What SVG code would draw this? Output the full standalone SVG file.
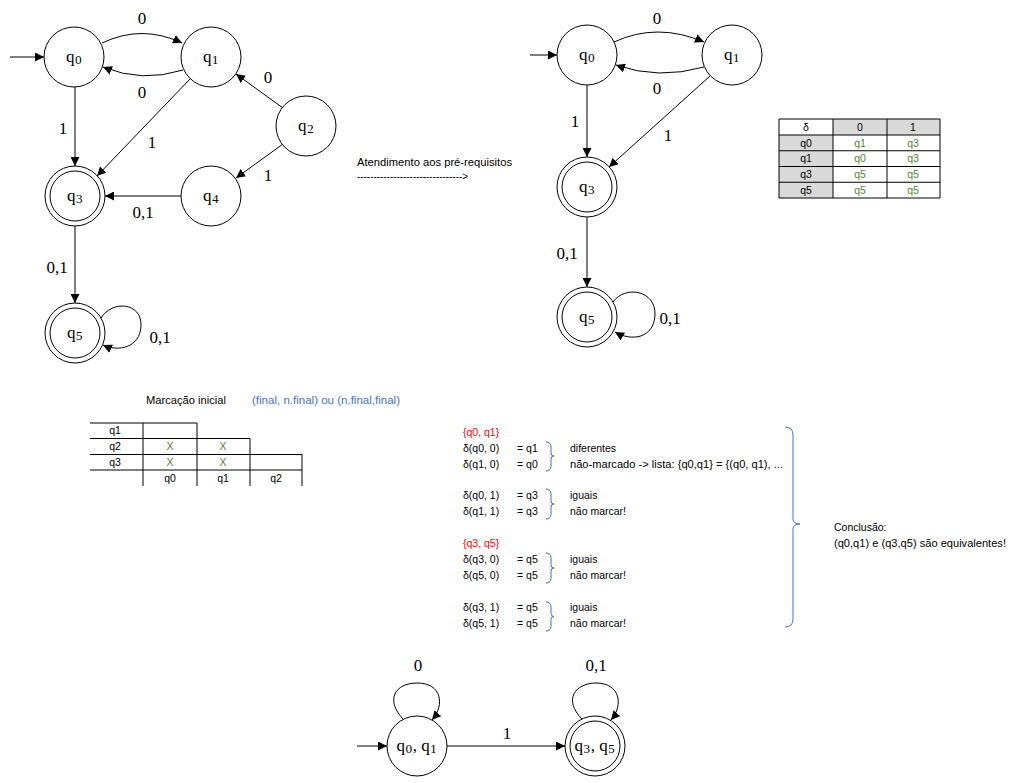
<svg xmlns="http://www.w3.org/2000/svg" width="1014" height="783" viewBox="0 0 1014 783">
<style>
.st{fill:#fff;stroke:#000;stroke-width:1}
.in{fill:none;stroke:#000;stroke-width:1}
.e{fill:none;stroke:#000;stroke-width:1}
.sl{font-family:"Liberation Serif","DejaVu Serif",serif;font-size:17px;text-anchor:middle;fill:#000}
.sb{font-size:22px}
.el{font-family:"Liberation Serif","DejaVu Serif",serif;font-size:17px;text-anchor:middle;fill:#000}
.t{font-family:"Liberation Sans",Arial,sans-serif;font-size:10.5px;fill:#000}
.tc{font-family:"Liberation Sans",Arial,sans-serif;font-size:10.5px;fill:#000;text-anchor:middle}
.g{fill:#548235}
.r{fill:#ff0000}
.b{fill:#4472c4}
.grid{stroke:#000;stroke-width:1;fill:none}
.br{fill:none;stroke:#4472c4;stroke-width:1}
</style>
<defs>
<marker id="ar" viewBox="0 0 10 10" refX="10" refY="5" markerWidth="9" markerHeight="9" markerUnits="userSpaceOnUse" orient="auto">
<path d="M0 0 L10 5 L0 10 Z" fill="#000"/>
</marker>
</defs>
<rect width="1014" height="783" fill="#fff"/>

<!-- connectors -->
<g id="connectors">
<path class="e" d="M10 57 L44 57" marker-end="url(#ar)"/>
<path class="e" d="M102 43 Q142 24 182 43" marker-end="url(#ar)"/>
<path class="e" d="M183 70 Q142 83 103 67" marker-end="url(#ar)"/>
<path class="e" d="M75 87 L75 166" marker-end="url(#ar)"/>
<path class="e" d="M190 79 L97 176" marker-end="url(#ar)"/>
<path class="e" d="M283 108 L236 74" marker-end="url(#ar)"/>
<path class="e" d="M283 144 L236 178" marker-end="url(#ar)"/>
<path class="e" d="M181 196 L105 196" marker-end="url(#ar)"/>
<path class="e" d="M75 226 L75 303" marker-end="url(#ar)"/>
<path class="e" d="M101 318 C112 300 142 302 141 326 C140 348 118 352 103 345" marker-end="url(#ar)"/>
<path class="e" d="M530 55 L557 55" marker-end="url(#ar)"/>
<path class="e" d="M614 42 Q657 22 704 42" marker-end="url(#ar)"/>
<path class="e" d="M704 67 Q658 80 616 65" marker-end="url(#ar)"/>
<path class="e" d="M587 85 L587 157" marker-end="url(#ar)"/>
<path class="e" d="M710 76 L609 167" marker-end="url(#ar)"/>
<path class="e" d="M587 217 L587 287" marker-end="url(#ar)"/>
<path class="e" d="M613 302 C625 285 656 290 655 315 C654 338 632 342 615 332" marker-end="url(#ar)"/>
<path class="e" d="M357 746 L387 746" marker-end="url(#ar)"/>
<path class="e" d="M447 746 L565 746" marker-end="url(#ar)"/>
<path class="e" d="M403 719 C385 700 395 683 417 683 C442 683 445 705 432 720" marker-end="url(#ar)"/>
<path class="e" d="M582 719 C563 700 575 683 596 683 C620 683 624 705 611 720" marker-end="url(#ar)"/>
</g>

<!-- edge labels -->
<g id="edge-labels">
<text class="el" x="142" y="24">0</text>
<text class="el" x="142" y="98">0</text>
<text class="el" x="63" y="134">1</text>
<text class="el" x="152" y="148">1</text>
<text class="el" x="268" y="83">0</text>
<text class="el" x="268" y="181">1</text>
<text class="el" x="143" y="218">0,1</text>
<text class="el" x="57" y="273">0,1</text>
<text class="el" x="160" y="343">0,1</text>
<text class="el" x="657" y="24">0</text>
<text class="el" x="657" y="94">0</text>
<text class="el" x="575" y="127">1</text>
<text class="el" x="668" y="141">1</text>
<text class="el" x="567" y="259">0,1</text>
<text class="el" x="670" y="324">0,1</text>
<text class="el" x="418" y="671">0</text>
<text class="el" x="596" y="671">0,1</text>
<text class="el" x="507" y="739">1</text>
</g>

<!-- top-left automaton -->
<g id="A_q0"><circle class="st" cx="74" cy="57" r="30"/><text class="sl" x="74" y="62">q<tspan class="sb" dy="-2">₀</tspan></text></g>
<g id="A_q1"><circle class="st" cx="211" cy="57" r="30"/><text class="sl" x="211" y="62">q<tspan class="sb" dy="-2">₁</tspan></text></g>
<g id="A_q2"><circle class="st" cx="306" cy="126" r="30"/><text class="sl" x="306" y="131">q<tspan class="sb" dy="-2">₂</tspan></text></g>
<g id="A_q3"><circle class="st" cx="75" cy="196" r="30"/><circle class="in" cx="75" cy="196" r="25"/><text class="sl" x="75" y="201">q<tspan class="sb" dy="-2">₃</tspan></text></g>
<g id="A_q4"><circle class="st" cx="211" cy="196" r="30"/><text class="sl" x="211" y="201">q<tspan class="sb" dy="-2">₄</tspan></text></g>
<g id="A_q5"><circle class="st" cx="75" cy="333" r="30"/><circle class="in" cx="75" cy="333" r="25"/><text class="sl" x="75" y="338">q<tspan class="sb" dy="-2">₅</tspan></text></g>

<!-- top-right automaton -->
<g id="B_q0"><circle class="st" cx="587" cy="55" r="30"/><text class="sl" x="587" y="60">q<tspan class="sb" dy="-2">₀</tspan></text></g>
<g id="B_q1"><circle class="st" cx="732" cy="55" r="30"/><text class="sl" x="732" y="60">q<tspan class="sb" dy="-2">₁</tspan></text></g>
<g id="B_q3"><circle class="st" cx="587" cy="187" r="30"/><circle class="in" cx="587" cy="187" r="25"/><text class="sl" x="587" y="192">q<tspan class="sb" dy="-2">₃</tspan></text></g>
<g id="B_q5"><circle class="st" cx="587" cy="317" r="30"/><circle class="in" cx="587" cy="317" r="25"/><text class="sl" x="587" y="322">q<tspan class="sb" dy="-2">₅</tspan></text></g>

<!-- bottom automaton -->
<g id="C_q01"><circle class="st" cx="417" cy="746" r="30"/><text class="sl" x="417" y="751">q<tspan class="sb" dy="-2">₀</tspan><tspan dy="2">, q</tspan><tspan class="sb" dy="-2">₁</tspan></text></g>
<g id="C_q35"><circle class="st" cx="595" cy="746" r="30"/><circle class="in" cx="595" cy="746" r="25"/><text class="sl" x="595" y="751">q<tspan class="sb" dy="-2">₃</tspan><tspan dy="2">, q</tspan><tspan class="sb" dy="-2">₅</tspan></text></g>

<!-- middle arrow text -->
<g id="prereq">
<text class="t" x="357" y="165.5" textLength="155" lengthAdjust="spacingAndGlyphs">Atendimento aos pré-requisitos</text>
<text class="t" x="357" y="179.5" textLength="111" lengthAdjust="spacingAndGlyphs">--------------------------------&gt;</text>
</g>

<!-- transition table -->
<g id="delta-table">
<rect x="833" y="119" width="107" height="16" fill="#d9d9d9"/>
<rect x="779" y="135" width="54" height="63" fill="#d9d9d9"/>
<path class="grid" d="M779 119 H940 V198 H779 Z M779 135 H940 M779 150.75 H940 M779 166.5 H940 M779 182.25 H940 M833 119 V198 M887 119 V198"/>
<text class="tc" x="806" y="130.5">δ</text>
<text class="tc" x="860" y="130.5">0</text>
<text class="tc" x="913" y="130.5">1</text>
<text class="tc" x="806" y="146.5">q0</text>
<text class="tc g" x="860" y="146.5">q1</text>
<text class="tc g" x="913" y="146.5">q3</text>
<text class="tc" x="806" y="162">q1</text>
<text class="tc g" x="860" y="162">q0</text>
<text class="tc g" x="913" y="162">q3</text>
<text class="tc" x="806" y="178">q3</text>
<text class="tc g" x="860" y="178">q5</text>
<text class="tc g" x="913" y="178">q5</text>
<text class="tc" x="806" y="193.5">q5</text>
<text class="tc g" x="860" y="193.5">q5</text>
<text class="tc g" x="913" y="193.5">q5</text>
</g>

<!-- initial marking -->
<g id="marking">
<text class="t" x="146" y="403.5" textLength="80" lengthAdjust="spacingAndGlyphs">Marcação inicial</text>
<text class="t b" x="252" y="403.5" textLength="148" lengthAdjust="spacingAndGlyphs">(final, n.final) ou (n.final,final)</text>
<path class="grid" d="M90 423 H197 M90 438.5 H250 M90 454.5 H302 M90 470 H302 M143 423 V486 M197 423 V486 M250 438.5 V486 M302 454.5 V486"/>
<text class="tc" x="115" y="433.5">q1</text>
<text class="tc" x="115" y="449.5">q2</text>
<text class="tc" x="115" y="465.5">q3</text>
<text class="tc g" x="170" y="449.5">X</text>
<text class="tc g" x="223" y="449.5">X</text>
<text class="tc g" x="170" y="465.5">X</text>
<text class="tc g" x="223" y="465.5">X</text>
<text class="tc" x="170" y="481.5">q0</text>
<text class="tc" x="223" y="481.5">q1</text>
<text class="tc" x="276" y="481.5">q2</text>
</g>

<!-- analysis -->
<g id="analysis">
<text class="t r" x="463" y="436">{q0, q1}</text>
<text class="t" x="463" y="452">δ(q0, 0)</text><text class="t" x="517" y="452">= q1</text><text class="t" x="570" y="452">diferentes</text>
<text class="t" x="463" y="468">δ(q1, 0)</text><text class="t" x="517" y="468">= q0</text><text class="t" x="570" y="468" textLength="213" lengthAdjust="spacingAndGlyphs">não-marcado -&gt; lista: {q0,q1} = {(q0, q1), ...</text>
<text class="t" x="463" y="499">δ(q0, 1)</text><text class="t" x="517" y="499">= q3</text><text class="t" x="570" y="499">iguais</text>
<text class="t" x="463" y="514.5">δ(q1, 1)</text><text class="t" x="517" y="514.5">= q3</text><text class="t" x="570" y="514.5">não marcar!</text>
<text class="t r" x="463" y="546.5">{q3, q5}</text>
<text class="t" x="463" y="562.5">δ(q3, 0)</text><text class="t" x="517" y="562.5">= q5</text><text class="t" x="570" y="562.5">iguais</text>
<text class="t" x="463" y="578.5">δ(q5, 0)</text><text class="t" x="517" y="578.5">= q5</text><text class="t" x="570" y="578.5">não marcar!</text>
<text class="t" x="463" y="610.5">δ(q3, 1)</text><text class="t" x="517" y="610.5">= q5</text><text class="t" x="570" y="610.5">iguais</text>
<text class="t" x="463" y="626.5">δ(q5, 1)</text><text class="t" x="517" y="626.5">= q5</text><text class="t" x="570" y="626.5">não marcar!</text>
<path class="br" d="M546 442 Q551 442 551 447 L551 453 Q551 456 554 456 Q551 456 551 459 L551 466 Q551 471 546 471"/>
<path class="br" d="M546 489 Q551 489 551 494 L551 501 Q551 504 554 504 Q551 504 551 507 L551 514 Q551 519 546 519"/>
<path class="br" d="M546 553 Q551 553 551 558 L551 565 Q551 568 554 568 Q551 568 551 571 L551 578 Q551 583 546 583"/>
<path class="br" d="M546 602 Q551 602 551 607 L551 613.5 Q551 616.5 554 616.5 Q551 616.5 551 619.5 L551 626 Q551 631 546 631"/>
<path class="br" d="M785 427 Q793 427 793 435 L793 519 Q793 524 800 524 Q793 524 793 529 L793 619 Q793 627 785 627"/>
</g>

<g id="conclusion">
<text class="t" x="834" y="530.5">Conclusão:</text>
<text class="t" x="834" y="546.5" textLength="172" lengthAdjust="spacingAndGlyphs">(q0,q1) e (q3,q5) são equivalentes!</text>
</g>
</svg>
